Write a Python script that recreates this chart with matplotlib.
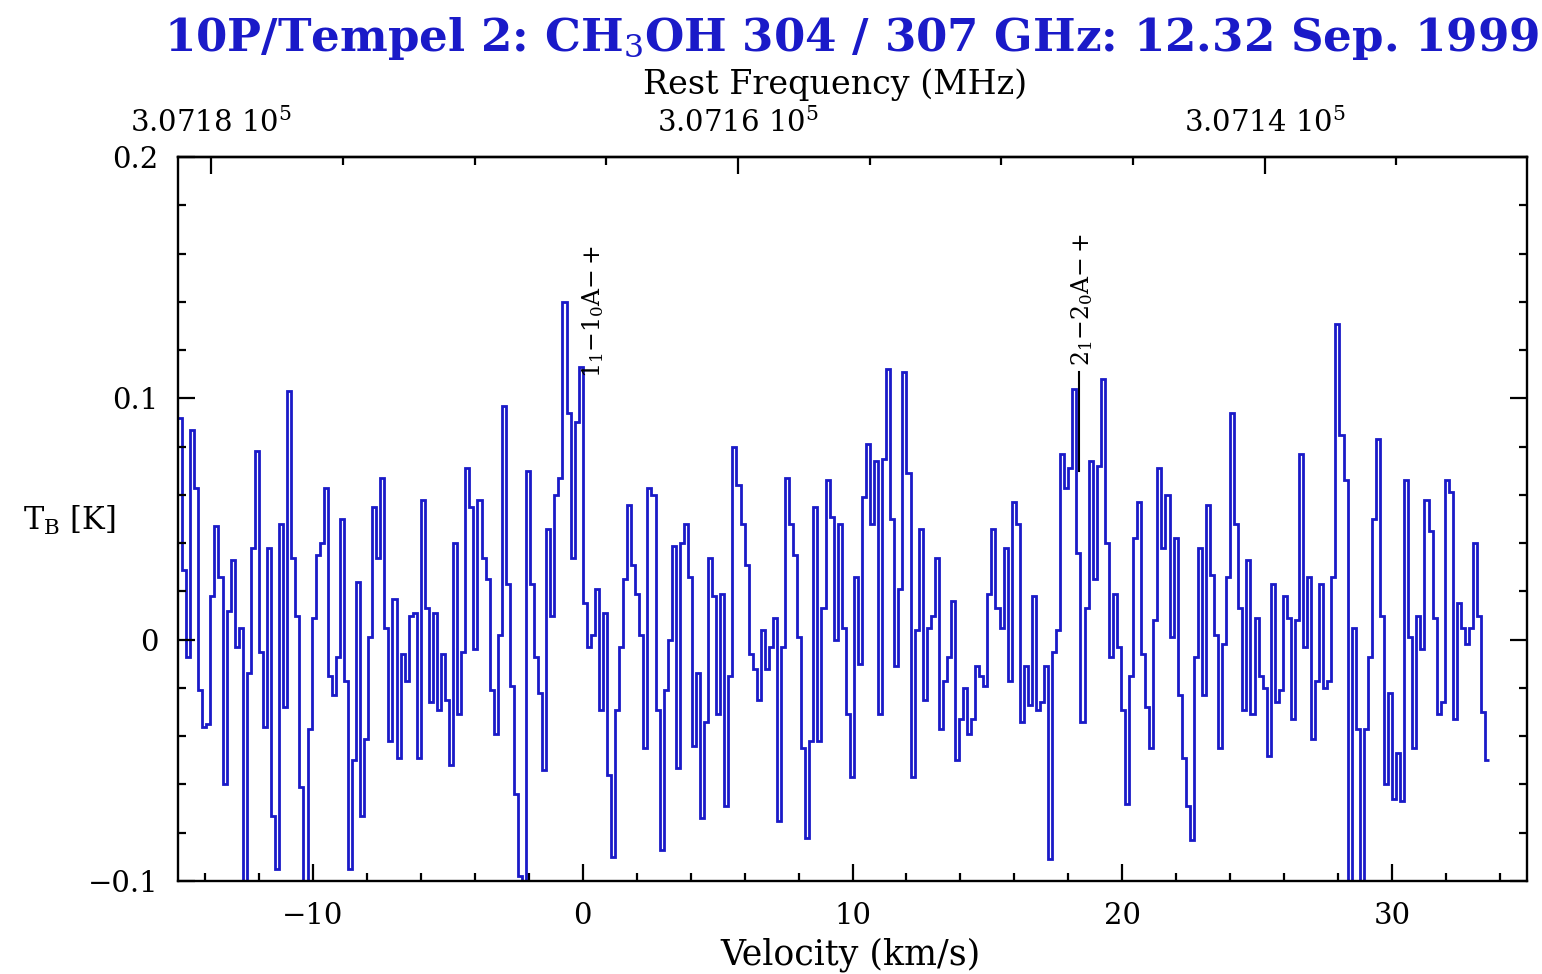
import numpy as np
import matplotlib
matplotlib.use("Agg")
import matplotlib.pyplot as plt
from matplotlib.ticker import MultipleLocator, FixedLocator

# ---------------- data ----------------
V_START = -15.0          # km/s, left edge of first channel
CHANNEL_WIDTH = 0.15     # km/s
F_REST = 307165.9        # MHz at v = 0
DF_DV = 1.0245           # MHz per km/s

seg1 = [0.092, 0.029, -0.007, 0.087, 0.063, -0.021, -0.036, -0.035, 0.018, 0.047,
        0.026, -0.060, 0.012, 0.033, -0.003, 0.005, -0.105, -0.014, 0.038, 0.078,
        -0.005, -0.036, 0.038, -0.073, -0.095, 0.048, -0.028, 0.103, 0.034, 0.010,
        -0.061, -0.105, -0.037, 0.009, 0.035, 0.040, 0.063, -0.015, -0.023, -0.007,
        0.050, -0.017, -0.095, -0.050, 0.024, -0.073, -0.041, 0.001, 0.055, 0.034,
        0.067, 0.005, -0.042, 0.017, -0.049, -0.006]
seg2 = [-0.017, 0.010, 0.011, -0.049, 0.058, 0.013, -0.026, 0.011, -0.029, -0.006,
        -0.025, -0.052, 0.040, -0.031, -0.005, 0.071, 0.055, -0.004, 0.058, 0.034,
        0.025, -0.021, -0.039, 0.002, 0.097, 0.023, -0.019, -0.064, -0.098, -0.105,
        0.070, 0.023, -0.007, -0.022, -0.054, 0.046, 0.010, 0.060, 0.067, 0.140,
        0.094, 0.034, 0.090, 0.113, 0.015, -0.003, 0.002, 0.021, -0.029, 0.011,
        -0.056, -0.090, -0.029, -0.003, 0.025]
seg3 = [0.056, 0.031, 0.019, 0.002, -0.045, 0.063, 0.060, -0.029, -0.087, -0.021,
        0.000, 0.039, -0.053, 0.040, 0.048, 0.026, -0.044, -0.014, -0.074, -0.034,
        0.034, 0.018, -0.031, 0.019, -0.069, -0.015, 0.080, 0.064, 0.048, 0.031,
        -0.006, -0.012, -0.025, 0.004, -0.012, -0.003, 0.009, -0.075, -0.003, 0.067,
        0.048, 0.035, 0.001, -0.045, -0.082, -0.042, 0.055, -0.042, 0.013, 0.066,
        0.051, 0.000, 0.048, 0.005, -0.031, -0.057, 0.026]
seg4 = [-0.010, 0.059, 0.081, 0.048, 0.074, -0.031, 0.075, 0.112, 0.050, -0.011,
        0.021, 0.111, 0.069, -0.057, 0.004, 0.046, -0.025, 0.005, 0.010, 0.034,
        -0.037, -0.017, -0.007, 0.016, -0.050, -0.033, -0.020, -0.039, -0.033, -0.011,
        -0.015, -0.019, 0.019, 0.046, 0.013, 0.005, 0.038, -0.017, 0.057, 0.048,
        -0.034, -0.011, -0.027, 0.018, -0.029, -0.026, -0.011, -0.091, -0.005, 0.004,
        0.077, 0.063, 0.071, 0.104]
seg5 = [0.036, -0.034, 0.013, 0.074, 0.025, 0.072, 0.108, 0.040, -0.007, 0.019,
        -0.003, -0.029, -0.068, -0.015, 0.042, 0.057, -0.006, -0.028, -0.045, 0.008,
        0.071, 0.038, 0.060, 0.001, 0.042, -0.023, -0.049, -0.069, -0.083, -0.007,
        0.038, -0.023, 0.056, 0.027, 0.002, -0.045, -0.002, 0.026, 0.094, 0.048,
        0.013, -0.029, 0.033, -0.031, 0.009, -0.015, -0.020, -0.048, 0.023, -0.026,
        -0.021, 0.018, 0.009, -0.033, 0.008]
seg6 = [0.077, -0.003, 0.026, -0.041, -0.017, 0.023, -0.020, -0.017, 0.026, 0.131,
        0.085, 0.066, -0.105, 0.005, -0.037, -0.105, -0.037, -0.007, 0.050, 0.083,
        0.010, -0.060, -0.022, -0.066, -0.047, -0.067, 0.066, 0.001, -0.045, 0.010,
        -0.004, 0.058, 0.045, 0.009, -0.031, -0.026, 0.066, 0.061, -0.033, 0.015,
        0.005, -0.002, 0.005, 0.040, 0.010, -0.030, -0.050]

line_labels = [r"1$_1$$-$1$_0$A$-+$", r"2$_1$$-$2$_0$A$-+$"]
line_velocities = [0.4, 18.5]
line_label_T = [0.136, 0.141]

freq_major = [307180, 307160, 307140]
freq_labels = [r"3.0718 10$^5$", r"3.0716 10$^5$", r"3.0714 10$^5$"]

title = r"10P/Tempel 2: CH$_3$OH 304 / 307 GHz: 12.32 Sep. 1999"

# ---------------- plot ----------------
values = np.array(seg1 + seg2 + seg3 + seg4 + seg5 + seg6)
edges = V_START + CHANNEL_WIDTH * np.arange(len(values) + 1)

BLUE = "#1a1ac8"
plt.rcParams["font.family"] = ["DejaVu Serif"]
plt.rcParams["mathtext.fontset"] = "dejavuserif"

fig = plt.figure(figsize=(15.42, 9.74), dpi=100)
ax = fig.add_axes([178 / 1542, 1 - 881 / 974, (1527 - 178) / 1542, (881 - 157) / 974])

ax.stairs(values, edges, color=BLUE, linewidth=2.0, baseline=None)

ax.set_xlim(-15, 35)
ax.set_ylim(-0.1, 0.2)

for s in ax.spines.values():
    s.set_linewidth(1.7)

ax.yaxis.set_major_locator(FixedLocator([-0.1, 0.0, 0.1, 0.2]))
ax.yaxis.set_minor_locator(MultipleLocator(0.02))
ax.set_yticklabels(["\u22120.1", "0", "0.1", "0.2"])
ax.set_xticks([-10, 0, 10, 20, 30])
ax.set_xticklabels(["\u221210", "0", "10", "20", "30"])
ax.xaxis.set_minor_locator(MultipleLocator(2))

ax.tick_params(axis="both", which="both", direction="in", top=False, right=True,
               labelsize=21, width=1.6)
ax.tick_params(axis="both", which="major", length=12)
ax.tick_params(axis="both", which="minor", length=6)
ax.tick_params(axis="x", which="major", pad=15)
ax.tick_params(axis="y", which="major", pad=14)

def v2f(v):
    return F_REST - DF_DV * np.asarray(v)

def f2v(f):
    return (F_REST - np.asarray(f)) / DF_DV

sec = ax.secondary_xaxis("top", functions=(v2f, f2v))
sec.set_xticks(freq_major)
sec.set_xticklabels(freq_labels)
sec.xaxis.set_minor_locator(MultipleLocator(5))
sec.tick_params(axis="x", which="both", direction="in", labelsize=21, width=1.6)
sec.tick_params(axis="x", which="major", length=12, pad=14)
sec.tick_params(axis="x", which="minor", length=6)
sec.spines["top"].set_linewidth(1.7)

# axis titles
fig.text(835 / 1542, 1 - 85 / 974, "Rest Frequency (MHz)", ha="center", va="center",
         fontsize=24)
fig.text(850 / 1542, 1 - 955 / 974, "Velocity (km/s)", ha="center", va="center",
         fontsize=25)
fig.text(69 / 1542, 1 - 520 / 974, r"T$_{\rm B}$ [K]", ha="center", va="center",
         fontsize=22)

for lab, v, t in zip(line_labels, line_velocities, line_label_T):
    ax.text(v, t, lab, rotation=90, ha="center", va="center", fontsize=17, color="black")

ax.plot([18.4, 18.4], [0.07, 0.111], color="black", linewidth=1.5)

fig.text(852 / 1542, 1 - 38 / 974, title, ha="center", va="center",
         fontsize=32.5, fontweight="bold", color=BLUE)

fig.savefig("out.png", dpi=100)
